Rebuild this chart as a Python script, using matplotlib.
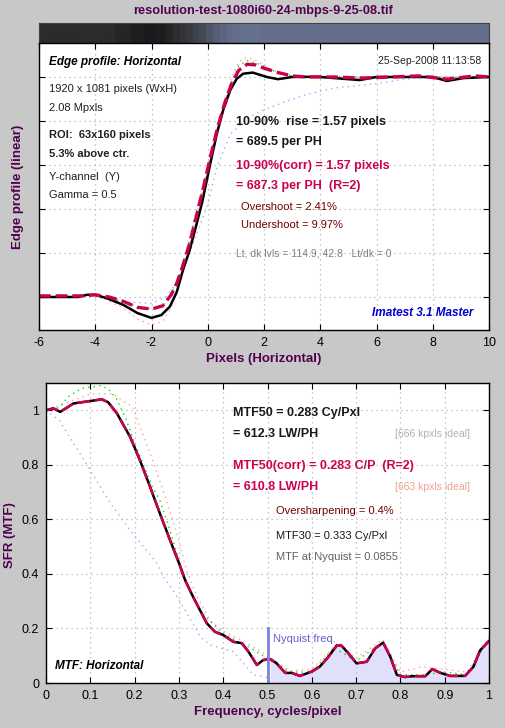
import matplotlib

matplotlib.use("Agg")
import matplotlib.pyplot as plt
import numpy as np
from matplotlib.colors import LinearSegmentedColormap

plt.rcParams["font.family"] = ["Liberation Sans", "DejaVu Sans"]
plt.rcParams["axes.unicode_minus"] = False

W, H = 505, 728
BG = "#c8c8c8"
CRIMSON = "#cc0050"
DARKRED = "#700000"
PURPLE = "#500050"

# ---- edge profile (top panel), normalised dark=0, light=1 ----
edge_x = [-6.0, -5.0, -4.6, -4.3, -4.0, -3.6, -3.0, -2.5, -2.0, -1.65, -1.35, -1.1,
          -0.88, -0.65, -0.4, -0.2, 0.08, 0.32, 0.55, 0.8, 1.03, 1.26, 1.6, 2.1,
          2.5, 3.0, 3.9, 4.5, 5.4, 6.0, 7.0, 8.0, 8.5, 9.1, 10.0]
edge_y = [0.0, 0.0, 0.0, 0.01, 0.01, -0.005, -0.036, -0.073, -0.095, -0.082, -0.044,
          0.023, 0.123, 0.21, 0.33, 0.43, 0.6, 0.74, 0.85, 0.94, 0.992, 1.015, 1.02,
          1.0, 0.99, 1.0, 1.001, 0.995, 0.986, 1.0, 1.0, 1.0, 0.982, 0.995, 1.0]

corr_x = [-6.0, -4.5, -4.0, -3.5, -3.0, -2.5, -2.0, -1.6, -1.3, -1.1, -0.9, -0.65,
          -0.4, -0.15, 0.1, 0.35, 0.6, 0.85, 1.1, 1.4, 1.7, 2.0, 2.5, 3.0, 3.5, 4.5,
          5.5, 6.5, 7.5, 8.5, 9.5, 10.0]
corr_y = [0.005, 0.005, 0.01, 0.0, -0.02, -0.047, -0.055, -0.04, 0.01, 0.063, 0.137,
          0.24, 0.37, 0.5, 0.64, 0.77, 0.88, 0.97, 1.03, 1.058, 1.055, 1.04, 1.02,
          1.005, 1.0, 1.0, 0.995, 1.0, 1.005, 0.99, 1.005, 1.0]

green_x = [-6.0, -4.5, -4.0, -3.0, -2.5, -2.0, -1.6, -1.3, -1.0, -0.7, -0.4, -0.1,
           0.2, 0.5, 0.8, 1.1, 1.4, 1.8, 2.3, 3.0, 4.0, 6.0, 8.0, 10.0]
green_y = [0.0, 0.005, 0.01, -0.02, -0.045, -0.055, -0.04, 0.015, 0.1, 0.24, 0.39,
           0.53, 0.7, 0.84, 0.96, 1.05, 1.075, 1.06, 1.03, 1.005, 1.0, 1.0, 1.0, 1.0]

pink_x = [-6.0, -4.5, -4.0, -3.0, -2.5, -2.0, -1.6, -1.3, -1.0, -0.7, -0.4, -0.1,
          0.2, 0.5, 0.8, 1.1, 1.4, 1.8, 2.3, 3.0, 4.0, 6.0, 8.0, 10.0]
pink_y = [0.0, 0.0, 0.01, -0.05, -0.1, -0.127, -0.11, -0.05, 0.06, 0.21, 0.37, 0.52,
          0.69, 0.85, 0.98, 1.07, 1.09, 1.07, 1.03, 1.005, 1.0, 1.0, 1.0, 1.0]

ideal_x = [-4.0, -3.0, -2.0, -1.5, -1.0, -0.5, 0.0, 0.3, 0.8, 1.5, 2.0, 2.8, 3.5,
           4.5, 6.0, 7.0, 8.0, 10.0]
ideal_y = [0.0, -0.02, -0.03, 0.0, 0.08, 0.25, 0.42, 0.58, 0.74, 0.82, 0.85, 0.89,
           0.92, 0.95, 0.97, 0.99, 1.0, 1.0]

# ---- MTF (bottom panel) ----
mtf_f = [0.0, 0.017, 0.032, 0.062, 0.1, 0.126, 0.14, 0.16, 0.19, 0.212, 0.235,
         0.257, 0.28, 0.302, 0.314, 0.332, 0.363, 0.381, 0.4, 0.423, 0.442, 0.457,
         0.476, 0.49, 0.506, 0.52, 0.54, 0.555, 0.573, 0.6, 0.618, 0.637, 0.656,
         0.667, 0.682, 0.701, 0.724, 0.743, 0.761, 0.777, 0.792, 0.81, 0.829,
         0.856, 0.872, 0.889, 0.912, 0.946, 0.965, 0.98, 1.0]
mtf_v = [1.0, 1.007, 0.994, 1.025, 1.034, 1.04, 1.03, 0.989, 0.902, 0.817, 0.719,
         0.622, 0.524, 0.432, 0.377, 0.316, 0.219, 0.188, 0.176, 0.151, 0.146,
         0.115, 0.066, 0.084, 0.088, 0.073, 0.037, 0.037, 0.026, 0.042, 0.06,
         0.095, 0.137, 0.137, 0.11, 0.072, 0.078, 0.127, 0.148, 0.097, 0.03,
         0.022, 0.025, 0.025, 0.051, 0.038, 0.026, 0.026, 0.06, 0.12, 0.154]

mtf_green_f = [0.0, 0.03, 0.05, 0.08, 0.12, 0.14, 0.16, 0.18, 0.2, 0.22, 0.24, 0.257,
               0.28, 0.3, 0.32, 0.35, 0.4, 0.45, 0.5, 0.55, 0.6, 0.65, 0.7, 0.76,
               0.8, 0.85, 0.9, 0.95, 1.0]
mtf_green_v = [1.0, 1.01, 1.05, 1.08, 1.09, 1.08, 1.04, 0.97, 0.88, 0.8, 0.72, 0.67,
               0.56, 0.45, 0.36, 0.26, 0.18, 0.14, 0.09, 0.04, 0.04, 0.13, 0.08,
               0.15, 0.03, 0.03, 0.04, 0.03, 0.16]

mtf_pink_f = [0.0, 0.05, 0.1, 0.15, 0.197, 0.212, 0.24, 0.264, 0.295, 0.317, 0.34,
              0.37, 0.4, 0.45, 0.5, 0.55, 0.6, 0.66, 0.7, 0.76, 0.8, 0.85, 0.9,
              0.95, 1.0]
mtf_pink_v = [1.0, 1.03, 1.06, 1.06, 1.01, 0.94, 0.82, 0.707, 0.55, 0.414, 0.32,
              0.23, 0.19, 0.15, 0.1, 0.045, 0.05, 0.15, 0.09, 0.16, 0.04, 0.06, 0.05,
              0.04, 0.17]

mtf_ideal_f = [0.0, 0.03, 0.1, 0.145, 0.19, 0.25, 0.265, 0.287, 0.318, 0.348, 0.37,
               0.423, 0.468, 0.5]
mtf_ideal_v = [1.0, 0.963, 0.78, 0.66, 0.56, 0.44, 0.39, 0.34, 0.256, 0.17, 0.14,
               0.115, 0.03, 0.02]

nyquist = 0.5


def fx(px):
    return px / W


def fy(py):
    return 1 - py / H


def style_axes(ax):
    ax.set_facecolor("white")
    ax.tick_params(direction="in", top=True, right=True, length=4, labelsize=9,
                   colors="black", pad=5)
    ax.grid(True, color="#b4b4b4", linestyle=(0, (1, 3)), linewidth=0.9)
    for s in ax.spines.values():
        s.set_linewidth(1.0)


fig = plt.figure(figsize=(W / 100, H / 100), dpi=100, facecolor=BG)

fig.text(fx(263), fy(11), "resolution-test-1080i60-24-mbps-9-25-08.tif",
         ha="center", va="center", fontsize=9.2, fontweight="bold", color=PURPLE)

# gradient strip showing the edge
axg = fig.add_axes([fx(39), fy(43), fx(489) - fx(39), (43 - 23) / H])
edges = np.concatenate([[edge_x[0]], (np.array(edge_x[:-1]) + np.array(edge_x[1:])) / 2,
                        [edge_x[-1]]])
cmap = LinearSegmentedColormap.from_list(
    "edge", [(0.0, "#18191c"), (0.08, "#2b2b2b"), (1.0, "#66708f")])
axg.pcolormesh(edges, [0, 1], np.array([edge_y]), cmap=cmap, vmin=-0.1, vmax=1.02)
axg.set_xlim(-6, 10)
axg.set_xticks([])
axg.set_yticks([])
for s in axg.spines.values():
    s.set_color("#404040")

# ---- top panel ----
ax1 = fig.add_axes([fx(39), fy(330), fx(489) - fx(39), (330 - 43) / H])
style_axes(ax1)
ax1.plot(ideal_x, ideal_y, color="#a8a8ff", linestyle=(0, (1, 3)), lw=1.0)
ax1.plot(pink_x, pink_y, color="#ffa0a0", linestyle=(0, (1, 3)), lw=1.0)
ax1.plot(green_x, green_y, color="#00e000", linestyle=(0, (1, 3)), lw=1.0)
ax1.plot(edge_x, edge_y, color="black", lw=1.8)
ax1.plot(corr_x, corr_y, color=CRIMSON, lw=2.4, linestyle=(0, (3.5, 1.5)))
ax1.set_xlim(-6, 10)
ax1.set_ylim(-0.15, 1.1545)
ax1.set_xticks(np.arange(-6, 11, 2))
ax1.set_yticks(np.arange(0, 1.01, 0.2))
ax1.set_yticklabels([])
ax1.set_xlabel("Pixels (Horizontal)", fontsize=9.5, fontweight="bold", color=PURPLE,
               labelpad=3)
fig.text(fx(18), fy(187), "Edge profile (linear)", rotation=90, ha="center", va="center",
         fontsize=9.5, fontweight="bold", color=PURPLE)

txt = [
    (49, 62, "Edge profile: Horizontal", 8.5, "bold", "italic", "black"),
    (49, 89, "1920 x 1081 pixels (WxH)", 8, "normal", "normal", "#202020"),
    (49, 108, "2.08 Mpxls", 8, "normal", "normal", "#202020"),
    (49, 135, "ROI:  63x160 pixels", 8, "bold", "normal", "#202020"),
    (49, 154, "5.3% above ctr.", 8, "bold", "normal", "#202020"),
    (49, 177, "Y-channel  (Y)", 8, "normal", "normal", "#202020"),
    (49, 195, "Gamma = 0.5", 8, "normal", "normal", "#202020"),
    (236, 122, "10-90%  rise = 1.57 pixels", 9, "bold", "normal", "#181818"),
    (236, 142, "= 689.5 per PH", 9, "bold", "normal", "#181818"),
    (236, 166, "10-90%(corr) = 1.57 pixels", 9, "bold", "normal", CRIMSON),
    (236, 186, "= 687.3 per PH  (R=2)", 9, "bold", "normal", CRIMSON),
    (241, 207, "Overshoot = 2.41%", 8, "normal", "normal", DARKRED),
    (241, 225, "Undershoot = 9.97%", 8, "normal", "normal", DARKRED),
    (236, 253, "Lt, dk lvls = 114.9, 42.8   Lt/dk = 0", 7.5, "normal", "normal", "#808080"),
    # bottom panel
    (233, 413, "MTF50 = 0.283 Cy/Pxl", 9, "bold", "normal", "#181818"),
    (233, 434, "= 612.3 LW/PH", 9, "bold", "normal", "#181818"),
    (233, 466, "MTF50(corr) = 0.283 C/P  (R=2)", 9, "bold", "normal", CRIMSON),
    (233, 487, "= 610.8 LW/PH", 9, "bold", "normal", CRIMSON),
    (276, 511, "Oversharpening = 0.4%", 8, "normal", "normal", DARKRED),
    (276, 536, "MTF30 = 0.333 Cy/Pxl", 8, "normal", "normal", "#181818"),
    (276, 557, "MTF at Nyquist = 0.0855", 8, "normal", "normal", "#606060"),
    (55, 666, "MTF: Horizontal", 8.5, "bold", "italic", "black"),
]
for px, py, s, size, weight, style, color in txt:
    fig.text(fx(px), fy(py), s, ha="left", va="center", fontsize=size,
             fontweight=weight, fontstyle=style, color=color)

fig.text(fx(481), fy(61), "25-Sep-2008 11:13:58", ha="right", va="center", fontsize=7.5,
         color="#202020")
fig.text(fx(474), fy(313), "Imatest 3.1 Master", ha="right", va="center", fontsize=8.5,
         fontweight="bold", fontstyle="italic", color="#0000d0")
fig.text(fx(470), fy(434), "[666 kpxls ideal]", ha="right", va="center", fontsize=7.5,
         color="#b0b0b0")
fig.text(fx(470), fy(487), "[663 kpxls ideal]", ha="right", va="center", fontsize=7.5,
         color="#f0a090")

# ---- bottom panel ----
ax2 = fig.add_axes([fx(46), fy(683), fx(489) - fx(46), (683 - 383) / H])
style_axes(ax2)
f_arr = np.array(mtf_f)
v_arr = np.array(mtf_v)
ax2.fill_between(f_arr, 0, v_arr, where=f_arr >= nyquist, color="#e0e0fa", lw=0)
ax2.plot(mtf_ideal_f, mtf_ideal_v, color="#a8a8ff", linestyle=(0, (1, 3)), lw=1.0)
ax2.plot(mtf_pink_f, mtf_pink_v, color="#ffa0a0", linestyle=(0, (1, 3)), lw=1.0)
ax2.plot(mtf_green_f, mtf_green_v, color="#00e000", linestyle=(0, (1, 3)), lw=1.0)
ax2.plot(mtf_f, mtf_v, color="black", lw=1.8)
ax2.plot(mtf_f, mtf_v, color=CRIMSON, lw=1.8, linestyle=(0, (5, 2)))
ax2.plot([nyquist, nyquist], [0, 0.2], color="#8080e0", lw=2)
ax2.text(nyquist + 0.012, 0.16, "Nyquist freq.", color="#6060d0", fontsize=8,
         va="center", ha="left")
ax2.set_xlim(0, 1)
ax2.set_ylim(0, 1.1)
ax2.set_xticks(np.arange(0, 1.01, 0.1))
ax2.set_xticklabels(["0", "0.1", "0.2", "0.3", "0.4", "0.5", "0.6", "0.7", "0.8",
                     "0.9", "1"])
ax2.set_yticks(np.arange(0, 1.01, 0.2))
ax2.set_yticklabels(["0", "0.2", "0.4", "0.6", "0.8", "1"])
ax2.set_xlabel("Frequency, cycles/pixel", fontsize=9.5, fontweight="bold", color=PURPLE,
               labelpad=3)
fig.text(fx(10), fy(535), "SFR (MTF)", rotation=90, ha="center", va="center",
         fontsize=9.5, fontweight="bold", color=PURPLE)

fig.savefig("out.png", dpi=100, facecolor=BG)
